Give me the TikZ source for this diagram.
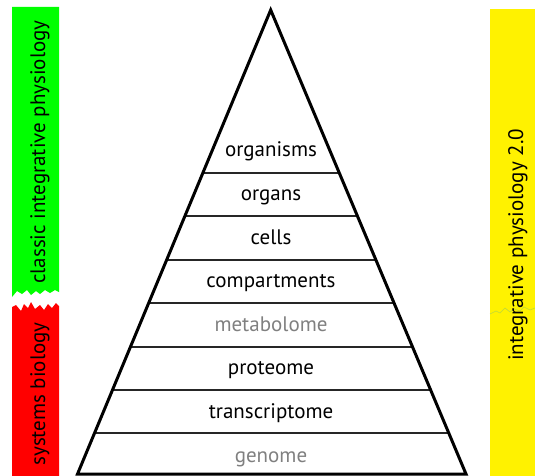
\documentclass[tikz,border=0pt]{standalone}
\usepackage{fontspec}
\setmainfont{PT Sans}
\usetikzlibrary{calc}
\begin{document}
\begin{tikzpicture}[x=1pt,y=-1pt,
  lvl/.style={font=\fontsize{21}{24}\selectfont, anchor=base},
  dim/.style={lvl, text=black!50},
  side/.style={font=\fontsize{21}{24}\selectfont, rotate=90, anchor=base},
  edge/.style={line width=3pt, line join=miter},
  tier/.style={line width=2pt, draw=black!85}]
\useasboundingbox (0,0) rectangle (535,476);
% side bars
\fill[green] (12,7) -- (59,7) -- (59,292) -- (55,290) -- (50,293) -- (45,290) -- (40,294) -- (36,291) -- (31,295) -- (27,290) -- (22,294) -- (17,291) -- (12,297) -- cycle;
\fill[red] (12,476) -- (12,307) -- (16,305) -- (21,311) -- (24,304) -- (28,308) -- (31,302) -- (35,309) -- (40,305) -- (44,310) -- (48,304) -- (52,308) -- (56,303) -- (59,306) -- (59,476) -- cycle;
\fill[yellow] (490,9) rectangle (535,476);
\draw[draw={rgb,255:red,190;green,215;blue,60}, line width=0.6pt] (490,314) -- (496,311) -- (500,313) -- (505,308) -- (510,312) -- (514,309) -- (520,311) -- (524,307) -- (530,310) -- (535,308);
\node[side] (cip) at (45,152) {classic integrative physiology};
\node[side] (sb) at (45,394) {systems biology};
\node[side] (ip2) at (523,245) {integrative physiology 2.0};
% pyramid
\coordinate (apex) at (270.7,10);
\coordinate (bl) at (77.5,474);
\coordinate (br) at (466,474);
\foreach \y [count=\i] in {173,216.4,259.8,303.2,346.6,390,433.4}{
  \draw[tier] ($(apex)!{(\y-10)/464}!(bl)$) -- ($(apex)!{(\y-10)/464}!(br)$);
}
\draw[edge] (bl) -- (apex) -- (br) -- cycle;
\node[lvl] (n1) at (271,157) {organisms};
\node[lvl] (n2) at (271,200) {organs};
\node[lvl] (n3) at (271,244) {cells};
\node[lvl] (n4) at (271,287) {compartments};
\node[dim] (n5) at (271,331) {metabolome};
\node[lvl] (n6) at (271,374) {proteome};
\node[lvl] (n7) at (271,418) {transcriptome};
\node[dim] (n8) at (271,462) {genome};
\end{tikzpicture}
\end{document}
